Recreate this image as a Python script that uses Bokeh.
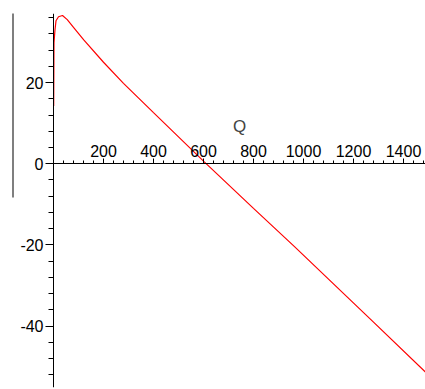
from bokeh.plotting import figure
from bokeh.models import Range1d, LinearAxis, FixedTicker, BoxAnnotation
from bokeh.embed import file_html
from bokeh.resources import INLINE

# Data (profit vs. Q)
q_values = [0.8, 2, 6, 10, 20, 36, 55, 80, 121, 200, 280, 400, 601, 800, 964, 1100, 1280, 1488]
profit = [14.2, 29.9, 33.0, 35.2, 36.2, 36.5, 35.5, 33.6, 30.5, 25.0, 19.8, 12.6, 0.6, -11.0, -20.4, -28.4, -39.0, -51.3]

x_ticks = [200, 400, 600, 800, 1000, 1200, 1400]
x_minor = [40 * i for i in range(1, 38)]
y_ticks = [-40, -20, 0, 20]
y_labels = {-40: "-40", -20: "-20", 0: "0", 20: "20"}
y_minor = [4 * i for i in range(-13, 10)]

FONT = "Liberation Sans"

p = figure(width=425, height=389, output_backend="svg", toolbar_location=None,
           x_range=Range1d(-212, 1488), y_range=Range1d(-55.1, 37),
           x_axis_type=None, y_axis_type=None,
           min_border_left=0, min_border_right=0, min_border_top=13, min_border_bottom=2)
p.outline_line_color = None
p.background_fill_color = "white"
p.border_fill_color = "white"

p.line(q_values, profit, line_color="#ff0000", line_width=1.2)

xaxis = LinearAxis(fixed_location=0, ticker=FixedTicker(ticks=x_ticks, minor_ticks=x_minor),
                   axis_label="Q", bounds=(0, 1488))
xaxis.axis_line_color = "black"
xaxis.axis_line_width = 1
xaxis.major_tick_out = 5
xaxis.major_tick_in = 0
xaxis.minor_tick_out = 3
xaxis.minor_tick_in = 0
xaxis.major_label_text_font = FONT
xaxis.major_label_text_font_size = "16px"
xaxis.major_label_text_color = "black"
xaxis.major_label_standoff = 2
xaxis.axis_label_text_font = FONT
xaxis.axis_label_text_font_size = "17px"
xaxis.axis_label_text_font_style = "normal"
xaxis.axis_label_standoff = 6
p.add_layout(xaxis, "above")

yaxis = LinearAxis(fixed_location=0, ticker=FixedTicker(ticks=y_ticks, minor_ticks=y_minor))
yaxis.major_label_overrides = y_labels
yaxis.axis_line_color = "black"
yaxis.axis_line_width = 1
yaxis.major_tick_out = 8
yaxis.major_tick_in = 0
yaxis.minor_tick_out = 5
yaxis.minor_tick_in = 0
yaxis.major_label_text_font = FONT
yaxis.major_label_text_font_size = "16px"
yaxis.major_label_text_color = "black"
yaxis.major_label_standoff = 2
p.add_layout(yaxis, "left")

# thin vertical rule at the far left of the reference picture
p.add_layout(BoxAnnotation(left=12, right=13, top=10, bottom=197,
                           left_units="canvas", right_units="canvas",
                           top_units="canvas", bottom_units="canvas",
                           fill_color="black", fill_alpha=1.0, line_color=None))

open("out.html", "w").write(file_html(p, INLINE))
